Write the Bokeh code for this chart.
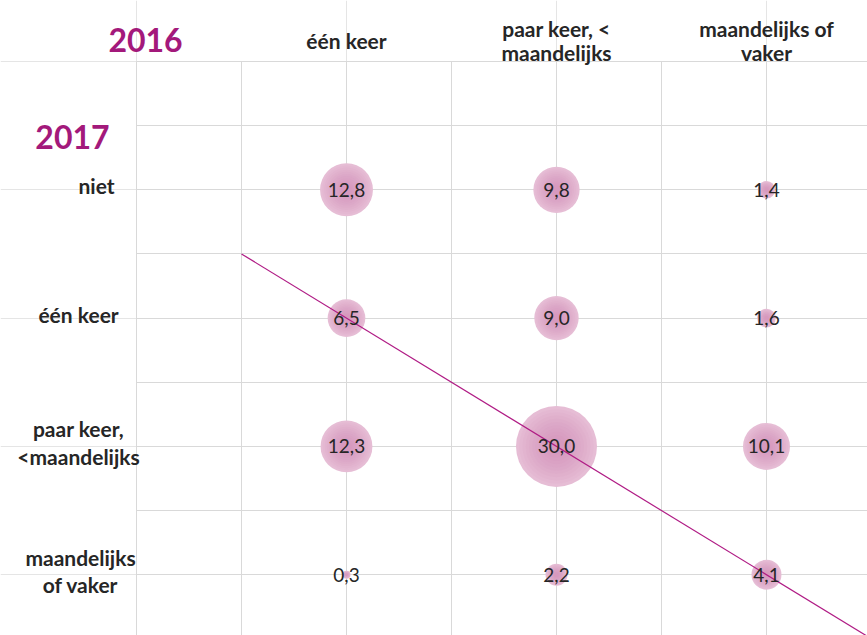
from math import sqrt
from bokeh.plotting import figure
from bokeh.models import Label, Grid, SingleIntervalTicker, Range1d, ColumnDataSource
from bokeh.core.properties import value
from bokeh.embed import file_html
from bokeh.resources import INLINE

# ---- data ----
cols_2016 = ["één keer", "paar keer, <\nmaandelijks", "maandelijks of\nvaker"]
rows_2017 = ["niet", "één keer", "paar keer,\n<maandelijks", "maandelijks\nof vaker"]
# values per 2016 column, listed for 2017 rows (niet, één keer, paar keer, maandelijks)
val_een_keer = [12.8, 6.5, 12.3, 0.3]
val_paar_keer = [9.8, 9.0, 30.0, 2.2]
val_maandelijks = [1.4, 1.6, 10.1, 4.1]
diag_x = [0.5, 3.5]
diag_y = [3.5, 0.5]

FONT = "Lato"
PURPLE = "#a3197b"
LINE = "#b01c85"
TXT = "#262626"

col_pos = [1, 2, 3]
row_pos = [4, 3, 2, 1]
row_label_dx = [18, 0, 0, 2]   # small horizontal nudges (px) of the row captions

xs, ys, vals = [], [], []
for ci, series in enumerate([val_een_keer, val_paar_keer, val_maandelijks]):
    for ri, v in enumerate(series):
        xs.append(col_pos[ci])
        ys.append(row_pos[ri])
        vals.append(v)

vmax = max(vals)
MAXD = 81
diam = [MAXD * sqrt(v / vmax) for v in vals]
labels = [f"{v:.1f}".replace(".", ",") for v in vals]
src = ColumnDataSource(dict(x=xs, y=ys, v=vals, d=diam, lab=labels))

# layout: 210 px per column unit, 128.3 px per row unit
W, H = 867, 635
X0, X1 = -136 / 210, 3.481
Y0, Y1 = 0.526, 5.0 + 61 / 128.3
p = figure(width=W, height=H, output_backend="svg", toolbar_location=None,
           x_range=Range1d(X0, X1), y_range=Range1d(Y0, Y1),
           x_axis_location=None, y_axis_location=None,
           min_border_left=0, min_border_top=0, min_border_right=0, min_border_bottom=0)
p.outline_line_color = None
p.background_fill_color = "white"
p.border_fill_color = "white"

p.add_layout(Grid(dimension=0, ticker=SingleIntervalTicker(interval=0.5),
                  bounds=(0, 3.5), cross_bounds=(0.0, 5.0),
                  grid_line_color="#d9d9d9", grid_line_width=1))
p.add_layout(Grid(dimension=1, ticker=SingleIntervalTicker(interval=0.5),
                  bounds=(0.5, 5.0), cross_bounds=(0.0, 3.6),
                  grid_line_color="#d9d9d9", grid_line_width=1))

# bubbles with radial-gradient look
p.scatter("x", "y", size="d", source=src, fill_color="#e6bdd5", line_color=None)
for k in range(10):
    frac = 0.92 - k * 0.08
    sub = ColumnDataSource(dict(x=xs, y=ys, d=[d * frac for d in diam]))
    p.scatter("x", "y", size="d", source=sub, fill_color="#d070a8", fill_alpha=0.06, line_color=None)

p.line(diag_x, diag_y, line_color=LINE, line_width=1.2)

p.text("x", "y", text="lab", source=src, text_font=value(FONT), text_font_size="19px",
       text_color=TXT, text_align="center", text_baseline="middle")

# column headers (2016)
for c, lab in zip(col_pos, cols_2016):
    p.add_layout(Label(x=c, y=5.164, text=lab, text_font=FONT,
                       text_font_size="21px", text_font_style="bold", text_color=TXT,
                       text_align="center", text_baseline="middle", text_line_height=0.95))
# row headers (2017)
for r, lab, dx in zip(row_pos, rows_2017, row_label_dx):
    p.add_layout(Label(x=-0.276, y=r + 0.03, x_offset=dx, text=lab, text_font=FONT,
                       text_font_size="21px", text_font_style="bold", text_color=TXT,
                       text_align="center", text_baseline="middle", text_line_height=1.1))

p.add_layout(Label(x=0.043, y=5.164, text="2016", text_font=FONT,
                   text_font_size="32px", text_font_style="bold", text_color=PURPLE,
                   text_align="center", text_baseline="middle"))
p.add_layout(Label(x=-0.305, y=4.408, text="2017", text_font=FONT,
                   text_font_size="32px", text_font_style="bold", text_color=PURPLE,
                   text_align="center", text_baseline="middle"))

open("out.html", "w").write(file_html(p, INLINE))
